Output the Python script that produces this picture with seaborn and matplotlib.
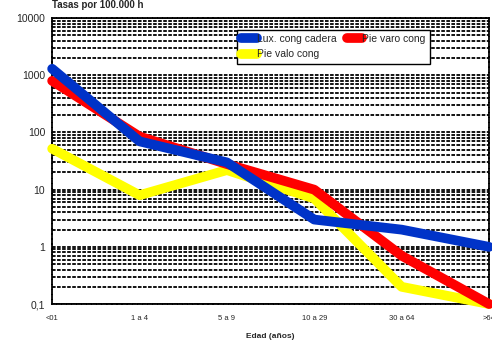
import numpy as np
import pandas as pd
import matplotlib
matplotlib.use("Agg")
import matplotlib.pyplot as plt
import seaborn as sns
from matplotlib.ticker import FixedLocator, FuncFormatter

# ===== datos =====
edades = ["<01", "1 a 4", "5 a 9", "10 a 29", "30 a 64", ">64"]
lux_cadera = [1300, 70, 30, 3, 2, 1]
pie_varo = [800, 85, 28, 10, 0.7, 0.1]
pie_valo = [52, 8, 22, 7, 0.2, 0.1]

series = ["Lux. cong cadera", "Pie varo cong", "Pie valo cong"]
colores = ["#0033C8", "#FF0000", "#FFFF00"]

df = pd.DataFrame({
    "edad": edades * 3,
    "tasa": lux_cadera + pie_varo + pie_valo,
    "serie": [series[0]] * 6 + [series[1]] * 6 + [series[2]] * 6,
})

sns.set_style("white")
plt.rcParams["font.family"] = ["Liberation Sans", "DejaVu Sans"]

fig = plt.figure(figsize=(4.92, 3.42), dpi=100)
ax = fig.add_axes([0.106, 0.111, 0.888, 0.836])

# grid de fondo (líneas discontinuas en cada subdivisión)
ax.set_yscale("log")
ax.set_ylim(0.1, 10000)
ax.set_xlim(0, 5)
minors = [m * 10.0 ** e for e in range(-1, 4) for m in range(1, 10)] + [10000]
for v in minors:
    ax.axhline(v, color="black", lw=1.3, ls=(0, (2, 0.8)), zorder=0)

# dibujar en orden: amarillo, rojo, azul (azul encima)
for i in [2, 1, 0]:
    sub = df[df["serie"] == series[i]]
    sns.lineplot(data=sub, x="edad", y="tasa", ax=ax, color=colores[i],
                 lw=7, solid_capstyle="round", solid_joinstyle="round",
                 sort=False, clip_on=False, zorder=3 + (2 - i), label=series[i])

ax.set_xlim(0, 5)
ax.set_ylim(0.1, 10000)

for s in ax.spines.values():
    s.set_visible(True)
    s.set_color("black")
    s.set_linewidth(1.3)
    s.set_linestyle((0, (2, 0.8)))

ax.yaxis.set_major_locator(FixedLocator([0.1, 1, 10, 100, 1000, 10000]))
ax.yaxis.set_minor_locator(FixedLocator([]))
ax.yaxis.set_major_formatter(FuncFormatter(
    lambda v, p: "0,1" if v < 1 else f"{int(round(v))}"))
ax.tick_params(axis="y", labelsize=7.5, length=0, pad=5)
ax.tick_params(axis="x", labelsize=5.5, length=0, pad=8)
ax.set_xticks(range(len(edades)))
ax.set_xticklabels(edades)

ax.set_ylabel("")
ax.set_xlabel("Edad (años)", fontsize=6, fontweight="bold", labelpad=8)
ax.text(0.0, 1.03, "Tasas por 100.000 h", transform=ax.transAxes,
        fontsize=7, fontweight="bold", ha="left", va="bottom")

# leyenda (orden por filas: Lux | Pie varo / Pie valo)
h, l = ax.get_legend_handles_labels()
mapa = dict(zip(l, h))
orden_leg = [series[0], series[2], series[1]]
leg = ax.legend([mapa[s] for s in orden_leg], orden_leg, ncol=2,
                loc="upper left", bbox_to_anchor=(0.423, 0.96),
                fontsize=7.5, frameon=True, fancybox=False,
                handlelength=1.5, handletextpad=0.0, columnspacing=1.0,
                labelspacing=0.55, borderpad=0.4, borderaxespad=0)
leg.get_frame().set_edgecolor("black")
leg.get_frame().set_linewidth(1.0)
leg.get_frame().set_alpha(1)
leg.set_zorder(10)

fig.savefig("out.png", dpi=100)
